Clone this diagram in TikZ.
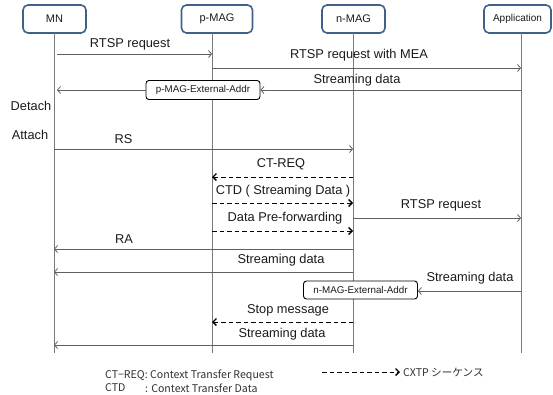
\documentclass[tikz,border=0pt]{standalone}
\usepackage{fontspec}
\setmainfont{Liberation Sans}
\newfontfamily\jpfont{Noto Sans CJK JP}
\usetikzlibrary{arrows.meta}

\definecolor{actorblue}{HTML}{41618A}
\definecolor{linegray}{HTML}{7A7A7A}
\definecolor{msggray}{HTML}{606060}
\definecolor{txt}{HTML}{1A1A1A}
\definecolor{legendtxt}{HTML}{303030}

\begin{document}
\begin{tikzpicture}[x=1pt,y=-1pt,
  actor/.style={draw=actorblue, line width=1.6pt, rounded corners=5pt,
    minimum height=28pt, inner sep=0pt, text=txt},
  life/.style={draw=linegray, line width=0.8pt},
  msg/.style={draw=msggray, line width=0.8pt,
    -{Straight Barb[length=3pt,width=7pt,line width=0.8pt]}},
  ctxp/.style={draw=black, line width=1pt, dash pattern=on 4.5pt off 3pt,
    -{Straight Barb[length=3.5pt,width=7pt,line width=1.3pt]}},
  lbl/.style={font=\fontsize{12.8}{14}\selectfont, text=txt, inner sep=0pt},
  addr/.style={draw=black, line width=0.9pt, fill=white, rounded corners=3pt,
    font=\fontsize{9.8}{11}\selectfont, text=txt, inner sep=0pt,
    minimum width=114pt, minimum height=19pt},
  legend/.style={font=\jpfont\fontsize{10.6}{12}\selectfont, text=legendtxt,
    inner sep=0pt, anchor=west},
]
\useasboundingbox (0,0) rectangle (553,394);

% participants
\node[actor, minimum width=63pt, font=\fontsize{11}{13}\selectfont] (mn) at (54.5,19) {MN};
\node[actor, minimum width=71pt, font=\fontsize{11}{13}\selectfont] (pmag) at (217,19) {p-MAG};
\node[actor, minimum width=63pt, font=\fontsize{11}{13}\selectfont] (nmag) at (353.5,19) {n-MAG};
\node[actor, minimum width=67pt, font=\fontsize{10}{12}\selectfont] (app) at (517.5,19) {Application};

% lifelines
\coordinate (mnT) at (54,33);   \coordinate (mnB) at (54,353);
\coordinate (pT) at (212,33);   \coordinate (pB) at (212,353);
\coordinate (nT) at (353,33);   \coordinate (nB) at (353,353);
\coordinate (aT) at (521,33);   \coordinate (aB) at (521,353);
\draw[life] (mnT) -- (mnB);
\draw[life] (pT) -- (pB);
\draw[life] (nT) -- (nB);
\draw[life] (aT) -- (aB);

% RTSP request  MN -> p-MAG
\coordinate (m1a) at (57,54); \coordinate (m1b) at (212,54);
\draw[msg] (m1a) -- (m1b);
\node[lbl] (l1) at (130,44) {RTSP request};

% RTSP request with MEA  p-MAG -> Application
\coordinate (m2a) at (212,68); \coordinate (m2b) at (521,68);
\draw[msg] (m2a) -- (m2b);
\node[lbl] (l2) at (359,55) {RTSP request with MEA};

% Streaming data  Application -> MN via p-MAG external address
\node[addr] (pext) at (203,90) {p-MAG-External-Addr};
\coordinate (m3a) at (521,90); \coordinate (m3b) at (57,90);
\draw[msg] (m3a) -- (pext.east);
\draw[msg] (pext.west) -- (m3b);
\node[lbl] (l3) at (357,80) {Streaming data};

% handover
\node[lbl] (detach) at (31,106) {Detach};
\node[lbl] (attach) at (30,135) {Attach};

% RS  MN -> n-MAG
\coordinate (m4a) at (54,149); \coordinate (m4b) at (353,149);
\draw[msg] (m4a) -- (m4b);
\node[lbl] (l4) at (123.5,139) {RS};

% CT-REQ  n-MAG -> p-MAG
\coordinate (m5a) at (353,177); \coordinate (m5b) at (212,177);
\draw[ctxp] (m5a) -- (m5b);
\node[lbl] (l5) at (281,164.5) {CT-REQ};

% CTD  p-MAG -> n-MAG
\coordinate (m6a) at (212,203); \coordinate (m6b) at (353,203);
\draw[ctxp] (m6a) -- (m6b);
\node[lbl] (l6) at (283,191.5) {CTD ( Streaming Data )};

% RTSP request  n-MAG -> Application
\coordinate (m7a) at (353,218); \coordinate (m7b) at (521,218);
\draw[msg] (m7a) -- (m7b);
\node[lbl] (l7) at (441,205.5) {RTSP request};

% Data Pre-forwarding  p-MAG -> n-MAG
\coordinate (m8a) at (212,231); \coordinate (m8b) at (353,231);
\draw[ctxp] (m8a) -- (m8b);
\node[lbl] (l8) at (285,218.5) {Data Pre-forwarding};

% RA  n-MAG -> MN
\coordinate (m9a) at (353,249); \coordinate (m9b) at (54,249);
\draw[msg] (m9a) -- (m9b);
\node[lbl] (l9) at (124,239) {RA};

% Streaming data  n-MAG -> MN
\coordinate (m10a) at (353,272); \coordinate (m10b) at (54,272);
\draw[msg] (m10a) -- (m10b);
\node[lbl] (l10) at (281,260) {Streaming data};

% Streaming data  Application -> n-MAG external address
\node[addr, minimum height=18pt] (next) at (360.5,290) {n-MAG-External-Addr};
\coordinate (m11a) at (521,291);
\draw[msg] (m11a) -- (next.east |- m11a);
\node[lbl] (l11) at (470,278.5) {Streaming data};

% Stop message  n-MAG -> p-MAG
\coordinate (m12a) at (353,322); \coordinate (m12b) at (212,322);
\draw[ctxp] (m12a) -- (m12b);
\node[lbl] (l12) at (288,310.5) {Stop message};

% Streaming data  n-MAG -> MN
\coordinate (m13a) at (353,345); \coordinate (m13b) at (54,345);
\draw[msg] (m13a) -- (m13b);
\node[lbl] (l13) at (282,334) {Streaming data};

% legend
\node[legend] (lg1) at (105,375) {CT−REQ: Context Transfer Request};
\node[legend] (lg2) at (105,388) {CTD};
\node[legend] (lg3) at (145,388) {: Context Transfer Data};
\coordinate (lga) at (322,372); \coordinate (lgb) at (400,372);
\draw[ctxp] (lga) -- (lgb);
\node[legend] (lg4) at (403,372) {CXTP シーケンス};
\end{tikzpicture}
\end{document}
